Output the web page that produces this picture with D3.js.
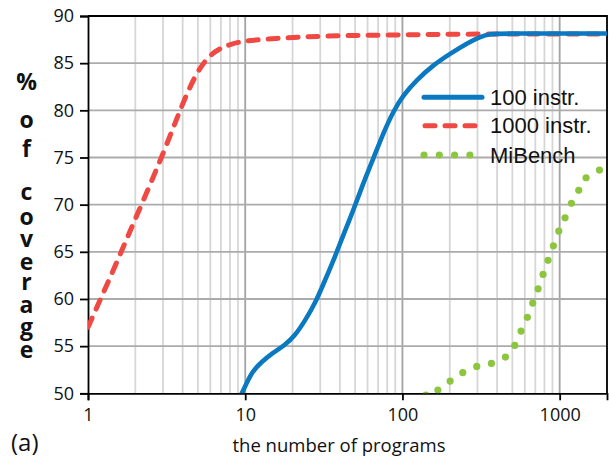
<!DOCTYPE html>
<html>
<head>
<meta charset="utf-8">
<script src="https://cdn.jsdelivr.net/npm/d3@7"></script>
<style>
  body { margin: 0; background: #fff; }
  text { font-family: "Open Sans", "Liberation Sans", sans-serif; }
</style>
</head>
<body>
<div id="chart"></div>
<script>
// 100 instr. series
var shortX = [9.3, 9.6, 11, 12.7, 14.7, 17.9, 20.7, 24, 27.8, 32.2, 37.3, 42.1, 48.7, 56.4, 65.3, 75.6, 87.5, 101, 123, 157, 201, 257, 312, 361, 450, 2000];
var shortY = [49.7, 50.1, 52.3, 53.3, 54.2, 55.1, 56.1, 57.7, 59.5, 62.0, 64.5, 66.8, 69.4, 72.3, 74.9, 77.6, 79.9, 81.6, 83.2, 84.8, 86.0, 87.1, 87.8, 88.1, 88.15, 88.15];

// 1000 instr. series
var longX = [1, 1.5, 2, 3, 4, 5, 6, 7, 8, 10, 15, 30, 100, 300, 2000];
var longY = [57, 63.6, 68.5, 75.3, 80.8, 84.3, 85.9, 86.6, 87.0, 87.4, 87.6, 87.9, 88.0, 88.1, 88.1];

// MiBench series
var miX = [141, 168, 201, 242, 297, 368, 452, 518, 568, 623, 674, 729, 784, 843, 912, 987, 1082, 1188, 1322, 1472, 1790];
var miY = [49.8, 50.34, 51.3, 52.2, 52.85, 53.17, 53.84, 55.08, 56.6, 58.05, 59.57, 61.08, 62.6, 64.1, 65.64, 67.2, 68.6, 70.14, 71.52, 72.85, 73.67];

var xTicks = [1, 10, 100, 1000];
var yTicks = [50, 55, 60, 65, 70, 75, 80, 85, 90];
var seriesNames = ["100 instr.", "1000 instr.", "MiBench"];
var yTitle = "% of coverage";

var W = 609, H = 459;
var pLeft = 88, pRight = 607, pTop = 16, pBottom = 393.3;

var blue = "#0a79c1", red = "#f04842", green = "#8cc63f";

var svg = d3.select("#chart").append("svg")
    .attr("width", W)
    .attr("height", H);

var x = d3.scaleLog().domain([1, 2000]).range([pLeft, pRight]);
var y = d3.scaleLinear().domain([50, 90]).range([pBottom, pTop]);

// grid: minor verticals
var minor = [];
[1, 10, 100, 1000].forEach(function(d) {
  for (var k = 2; k <= 9; k++) if (d * k <= 2000) minor.push(d * k);
});
svg.append("g").selectAll("line").data(minor).enter().append("line")
    .attr("x1", function(d) { return x(d); })
    .attr("x2", function(d) { return x(d); })
    .attr("y1", pTop).attr("y2", pBottom)
    .attr("stroke", "#d6d6d6").attr("stroke-width", 1.8);

svg.append("g").selectAll("line").data(xTicks.slice(1)).enter().append("line")
    .attr("x1", function(d) { return x(d); })
    .attr("x2", function(d) { return x(d); })
    .attr("y1", pTop).attr("y2", pBottom)
    .attr("stroke", "#a3a3a3").attr("stroke-width", 1.8);

svg.append("g").selectAll("line").data(yTicks.slice(1, -1)).enter().append("line")
    .attr("x1", pLeft).attr("x2", pRight)
    .attr("y1", function(d) { return y(d); })
    .attr("y2", function(d) { return y(d); })
    .attr("stroke", "#ababab").attr("stroke-width", 1.8);

// axes
var yAxis = svg.append("g")
    .attr("transform", "translate(" + pLeft + ",0)")
    .call(d3.axisLeft(y).tickValues(yTicks).tickSize(8).tickPadding(6));
yAxis.selectAll("text").attr("font-size", 18).attr("fill", "#111")
    .style("font-family", "'Open Sans', sans-serif");

var xAxis = svg.append("g")
    .attr("transform", "translate(0," + pBottom + ")")
    .call(d3.axisBottom(x).tickValues(xTicks).tickFormat(d3.format("d")).tickSize(7).tickPadding(8));
xAxis.selectAll("text").attr("font-size", 18).attr("fill", "#111")
    .style("font-family", "'Open Sans', sans-serif");

[yAxis, xAxis].forEach(function(a) {
  a.select(".domain").attr("stroke", "#000").attr("stroke-width", 1.8);
  a.selectAll(".tick line").attr("stroke", "#000").attr("stroke-width", 1.8);
});

// frame top + right
svg.append("path")
    .attr("d", "M" + pLeft + "," + pTop + "H" + pRight + "V" + pBottom)
    .attr("fill", "none").attr("stroke", "#000").attr("stroke-width", 1.8);

// clip
svg.append("clipPath").attr("id", "plot").append("rect")
    .attr("x", pLeft).attr("y", pTop)
    .attr("width", pRight - pLeft).attr("height", pBottom - pTop);

var line = d3.line()
    .x(function(d) { return x(d[0]); })
    .y(function(d) { return y(d[1]); })
    .curve(d3.curveBasis);

var plot = svg.append("g").attr("clip-path", "url(#plot)");

plot.append("path")
    .datum(d3.zip(longX, longY))
    .attr("fill", "none")
    .attr("stroke", red)
    .attr("stroke-width", 5)
    .attr("stroke-dasharray", "10 10")
    .attr("stroke-linecap", "round")
    .attr("d", line);

plot.append("path")
    .datum(d3.zip(shortX, shortY))
    .attr("fill", "none")
    .attr("stroke", blue)
    .attr("stroke-width", 4.6)
    .attr("d", line);

plot.append("g").selectAll("circle")
    .data(d3.zip(miX, miY))
    .enter().append("circle")
    .attr("cx", function(d) { return x(d[0]); })
    .attr("cy", function(d) { return y(d[1]); })
    .attr("r", 3.6)
    .attr("fill", green);

// legend
var leg = svg.append("g");
var legY = [97.3, 125.7, 155];
leg.append("line")
    .attr("x1", 424).attr("x2", 482).attr("y1", legY[0]).attr("y2", legY[0])
    .attr("stroke", blue).attr("stroke-width", 5).attr("stroke-linecap", "round");
leg.append("line")
    .attr("x1", 425).attr("x2", 480).attr("y1", legY[1]).attr("y2", legY[1])
    .attr("stroke", red).attr("stroke-width", 5)
    .attr("stroke-dasharray", "10 10").attr("stroke-linecap", "round");
leg.append("g").selectAll("circle").data([0, 1, 2, 3]).enter().append("circle")
    .attr("cx", function(d) { return 424 + d * 15.3; })
    .attr("cy", legY[2])
    .attr("r", 3.6)
    .attr("fill", green);
leg.selectAll("text.lab").data(seriesNames).enter().append("text")
    .attr("class", "lab")
    .attr("x", 490)
    .attr("y", function(d, i) { return legY[i] + 7.5; })
    .attr("font-size", 22)
    .attr("fill", "#111")
    .style("font-family", "'Liberation Sans', Arial, sans-serif")
    .text(function(d) { return d; });

// axis titles
svg.append("text")
    .attr("x", 339).attr("y", 451.5)
    .attr("text-anchor", "middle")
    .attr("font-size", 18.5)
    .attr("fill", "#111")
    .text("the number of programs");

svg.append("text")
    .attr("x", 11).attr("y", 451)
    .attr("font-size", 24)
    .attr("fill", "#111")
    .text("(a)");

// vertical stacked y title
var letterBase = [90, 128, 157, 200, 225, 247, 270, 290, 313, 335, 358];
var letters = yTitle.replace(/ /g, "").split("");
svg.append("g").selectAll("text").data(letters).enter().append("text")
    .attr("x", 26.5)
    .attr("y", function(d, i) { return letterBase[i]; })
    .attr("text-anchor", "middle")
    .attr("font-size", 23)
    .attr("font-weight", "bold")
    .attr("fill", "#111")
    .text(function(d) { return d; });
</script>
</body>
</html>
